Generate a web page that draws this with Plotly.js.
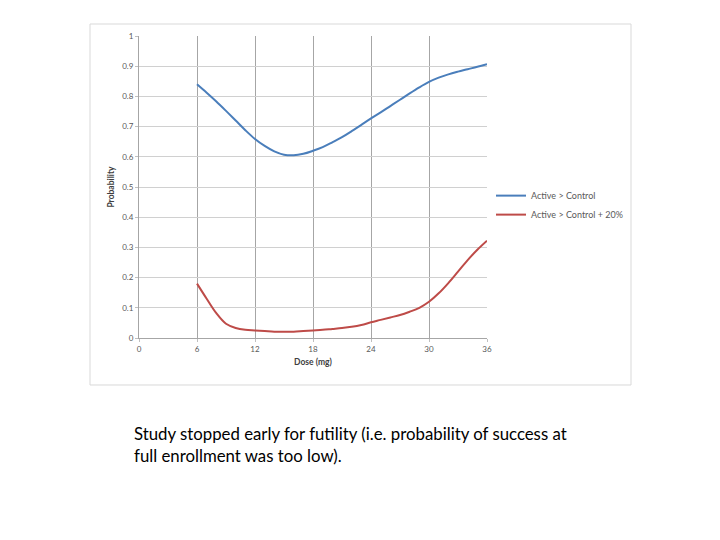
<!DOCTYPE html>
<html>
<head>
<meta charset="utf-8">
<script src="https://cdn.plot.ly/plotly-3.0.1.min.js"></script>
<style>html,body{margin:0;padding:0;background:#fff;}#chart{width:720px;height:540px;}</style>
</head>
<body>
<div id="chart"></div>
<script>
const dose = [6,7,8,9,10,11,12,13,14,15,16,17,18,19,20,21,22,23,24,25,26,27,28,29,30,31,32,33,34,35,36];
const activeVsControl = [0.84,0.812,0.783,0.752,0.72,0.688,0.659,0.636,0.618,0.607,0.605,0.61,0.62,0.632,0.648,0.665,0.685,0.706,0.727,0.747,0.768,0.789,0.81,0.83,0.848,0.862,0.873,0.882,0.89,0.898,0.907];
const activeVsControl20 = [0.18,0.13,0.082,0.047,0.033,0.027,0.025,0.023,0.021,0.021,0.021,0.023,0.025,0.027,0.03,0.033,0.037,0.043,0.052,0.06,0.068,0.076,0.087,0.1,0.12,0.148,0.182,0.22,0.258,0.292,0.322];
const seriesNames = ["Active > Control", "Active > Control + 20%"];
const xTicks = [0,6,12,18,24,30,36];
const yTicks = [0,0.1,0.2,0.3,0.4,0.5,0.6,0.7,0.8,0.9,1];
const yTickText = ["0","0.1","0.2","0.3","0.4","0.5","0.6","0.7","0.8","0.9","1"];
const caption = "Study stopped early for futility (i.e. probability of success at<br>full enrollment was too low).";

const traces = [
  {x: dose, y: activeVsControl, name: seriesNames[0], mode: "lines", line: {color: "#4a7ebb", width: 2, shape: "spline"}},
  {x: dose, y: activeVsControl20, name: seriesNames[1], mode: "lines", line: {color: "#be4b48", width: 2, shape: "spline"}}
];

const axisFont = {family: "Lato, 'Open Sans', sans-serif", size: 8, color: "#595959"};

const layout = {
  width: 720, height: 540,
  margin: {l: 139, r: 233, t: 36, b: 202},
  paper_bgcolor: "#fff", plot_bgcolor: "#fff",
  showlegend: true,
  legend: {x: 1.0115, y: 0.44, xanchor: "left", yanchor: "middle", font: {family: "Lato, 'Open Sans', sans-serif", size: 9, color: "#595959"}, tracegroupgap: 0, bgcolor: "rgba(0,0,0,0)"},
  xaxis: {
    range: [0, 36], tickvals: xTicks, ticktext: xTicks.map(String),
    showgrid: true, gridcolor: "#a6a6a6", gridwidth: 1,
    showline: true, linecolor: "#a6a6a6", linewidth: 1,
    ticks: "outside", ticklen: 3, tickcolor: "#bfbfbf",
    tickfont: axisFont, zeroline: false,
    title: {text: "<b>Dose (mg)</b>", font: {family: "Lato, 'Open Sans', sans-serif", size: 8.5, color: "#404040"}, standoff: 6}
  },
  yaxis: {
    range: [0, 1], tickvals: yTicks, ticktext: yTickText,
    showgrid: true, gridcolor: "#d0d0d0", gridwidth: 1,
    showline: true, linecolor: "#a6a6a6", linewidth: 1,
    ticks: "outside", ticklen: 3, tickcolor: "#bfbfbf",
    tickfont: axisFont, zeroline: false,
    title: {text: "<b>Probability</b>", font: {family: "Lato, 'Open Sans', sans-serif", size: 8.5, color: "#404040"}, standoff: 6}
  },
  shapes: [
    {type: "rect", xref: "paper", yref: "paper", x0: -0.1408, x1: 1.4138, y0: -0.1556, y1: 1.0397, line: {color: "#d9d9d9", width: 1}, fillcolor: "rgba(0,0,0,0)", layer: "below"}
  ],
  annotations: [
    {text: caption, xref: "paper", yref: "paper", x: -0.02, y: -0.275, xanchor: "left", yanchor: "top", align: "left", showarrow: false,
     font: {family: "Lato, 'Open Sans', sans-serif", size: 16.8, color: "#000"}}
  ]
};

Plotly.newPlot("chart", traces, layout, {displayModeBar: false, staticPlot: true});
</script>
</body>
</html>
